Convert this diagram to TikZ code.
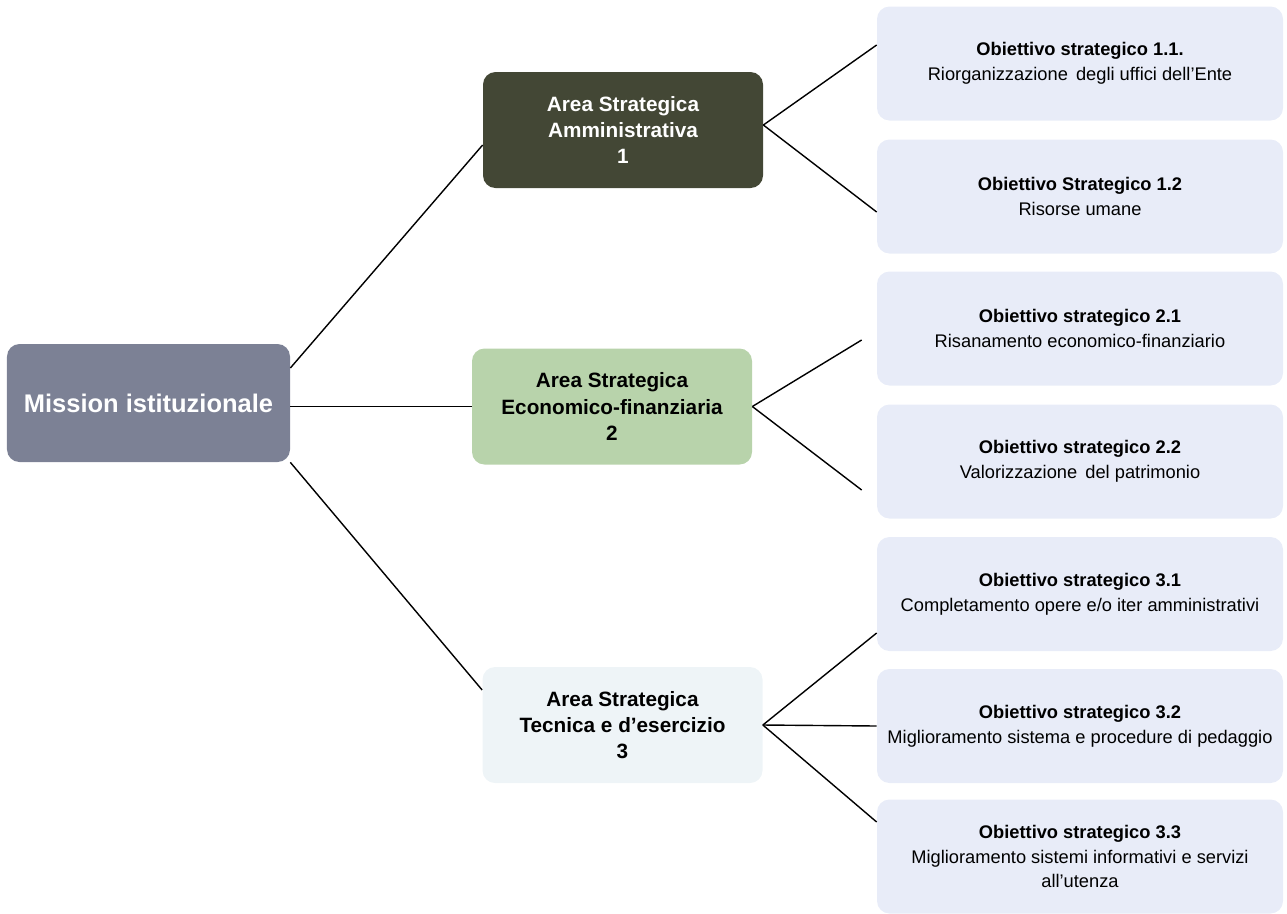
\documentclass[tikz,border=0pt]{standalone}
\usepackage{fontspec}
\setmainfont{Liberation Sans}
\usepackage{tikz}

\definecolor{misgray}{HTML}{7C8195}
\definecolor{areaone}{HTML}{434735}
\definecolor{areatwo}{HTML}{B8D3AB}
\definecolor{areathree}{HTML}{EEF4F7}
\definecolor{goalblue}{HTML}{E8ECF8}

\begin{document}
\begin{tikzpicture}[
	mission/.style={shape=rectangle, rounded corners=0.25cm, fill=misgray, text=white,
		font=\fontsize{14.5}{17}\selectfont\bfseries, minimum width=5.66cm, minimum height=2.36cm},
	area/.style={shape=rectangle, rounded corners=0.25cm, align=center, inner sep=0pt,
		font=\fontsize{11.8}{15}\selectfont\bfseries, minimum width=5.6cm, minimum height=2.32cm},
	goal/.style={shape=rectangle, rounded corners=0.25cm, fill=goalblue, align=center, inner sep=0pt,
		font=\fontsize{10.4}{14}\selectfont, minimum width=8.12cm, minimum height=2.28cm},
	link/.style={draw=black, line width=0.8pt}
	]

	\useasboundingbox (0, 0) rectangle (25.74, -18.26);

	\node[mission] (mis) at (2.97, -8.06) {Mission istituzionale};

	\node[area, fill=areaone, text=white] (a1) at (12.46, -2.60)  {Area Strategica\\Amministrativa\\1};
	\node[area, fill=areatwo]             (a2) at (12.24, -8.13)  {Area Strategica\\Economico-finanziaria\\2};
	\node[area, fill=areathree]           (a3) at (12.45, -14.50) {Area Strategica\\Tecnica e d'esercizio\\3};

	\node[goal] (o11) at (21.6, -1.27)  {\textbf{Obiettivo strategico 1.1.}\\Riorganizzazione\,\ degli uffici dell'Ente};
	\node[goal] (o12) at (21.6, -3.93)  {\textbf{Obiettivo Strategico 1.2}\\Risorse umane};
	\node[goal] (o21) at (21.6, -6.57)  {\textbf{Obiettivo strategico 2.1}\\Risanamento economico-finanziario};
	\node[goal] (o22) at (21.6, -9.23)  {\textbf{Obiettivo strategico 2.2}\\Valorizzazione\,\ del patrimonio};
	\node[goal] (o31) at (21.6, -11.88) {\textbf{Obiettivo strategico 3.1}\\Completamento opere e/o iter amministrativi};
	\node[goal] (o32) at (21.6, -14.52) {\textbf{Obiettivo strategico 3.2}\\Miglioramento sistema e procedure di pedaggio};
	\node[goal] (o33) at (21.6, -17.13) {\textbf{Obiettivo strategico 3.3}\\Miglioramento sistemi informativi e servizi\\all'utenza};

	\path[link] ([yshift=0.7cm]mis.east)   edge ([yshift=-0.3cm]a1.west);
	\path[link] ([yshift=-0.07cm]mis.east) edge (a2.west);
	\path[link] (mis.south east)           edge ([yshift=0.7cm]a3.west);

	\path[link] ([yshift=0.1cm]a1.east) edge ([yshift=0.37cm]o11.west);
	\path[link] ([yshift=0.1cm]a1.east) edge ([yshift=-0.31cm]o12.west);

	\path[link] (a2.east) edge ([xshift=-0.3cm, yshift=-0.23cm]o21.west);
	\path[link] (a2.east) edge ([xshift=-0.3cm, yshift=-0.57cm]o22.west);

	\path[link] (a3.east) edge ([yshift=-0.78cm]o31.west);
	\path[link] (a3.east) edge (o32.west);
	\path[link] (a3.east) edge ([yshift=0.69cm]o33.west);

\end{tikzpicture}
\end{document}
